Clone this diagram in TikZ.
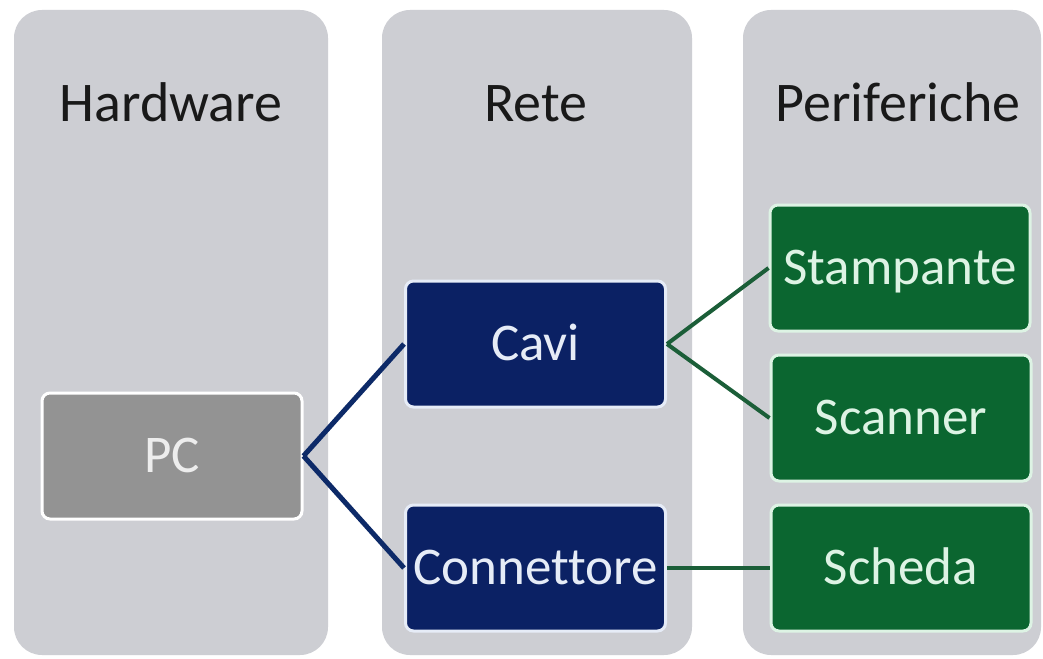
\documentclass[tikz,border=0pt]{standalone}
\usepackage{fontspec}
\setmainfont{Carlito}[Ligatures=CommonOff]
\usetikzlibrary{positioning}
\definecolor{colgray}{HTML}{CDCED3}
\definecolor{pcgray}{HTML}{939393}
\definecolor{navy}{HTML}{0B2164}
\definecolor{navylink}{HTML}{0D2A68}
\definecolor{darkgreen}{HTML}{0B6630}
\definecolor{greenlink}{HTML}{1B5E38}
\definecolor{mint}{HTML}{DDF3E4}
\definecolor{paleblue}{HTML}{E6ECF7}
\tikzset{
  colbox/.style={fill=colgray,rounded corners=28pt,minimum height=645pt,inner sep=0pt},
  header/.style={font=\fontsize{56}{60}\selectfont,text=black!90,text height=35pt,text depth=0pt,inner sep=0pt},
  itembox/.style={rounded corners=8pt,line width=3pt,minimum width=260pt,minimum height=126pt,
    inner sep=0pt,font=\fontsize{53}{58}\selectfont,text height=33.5pt,text depth=0pt},
  hwbox/.style={itembox,fill=pcgray,draw=white,text=white!93!black},
  netbox/.style={itembox,fill=navy,draw=paleblue,text=paleblue},
  perbox/.style={itembox,fill=darkgreen,draw=mint,text=mint},
  netlink/.style={draw=navylink,line width=5pt},
  perlink/.style={draw=greenlink,line width=4pt},
}
\begin{document}
\begin{tikzpicture}[x=1pt,y=-1pt]
  \useasboundingbox[fill=white] (0,0) rectangle (1043,658);
  % columns
  \node[colbox,minimum width=314pt] (colhw)  at (171,332.5) {};
  \node[colbox,minimum width=310pt] (colnet) at (537,332.5) {};
  \node[colbox,minimum width=298pt] (colper) at (892,332.5) {};
  \node[header] (hhw)  at (171,104) {Hardware};
  \node[header] (hnet) at (536,104) {Rete};
  \node[header] (hper) at (898,104) {Periferiche};
  % boxes
  \node[hwbox]  (pc)     at (172,456)   {PC};
  \node[netbox] (cavi)   at (535.5,344) {Cavi};
  \node[netbox] (conn)   at (535.5,568) {Connettore};
  \node[perbox] (stamp)  at (900,268)   {Stampante};
  \node[perbox] (scan)   at (901,418)   {Scanner};
  \node[perbox] (scheda) at (901,568)   {Scheda};
  % links
  \draw[netlink] (pc.east) -- (cavi.west);
  \draw[netlink] (pc.east) -- (conn.west);
  \draw[perlink] (cavi.east) -- (stamp.west);
  \draw[perlink] (cavi.east) -- (scan.west);
  \draw[perlink] (conn.east) -- (scheda.west);
\end{tikzpicture}
\end{document}
